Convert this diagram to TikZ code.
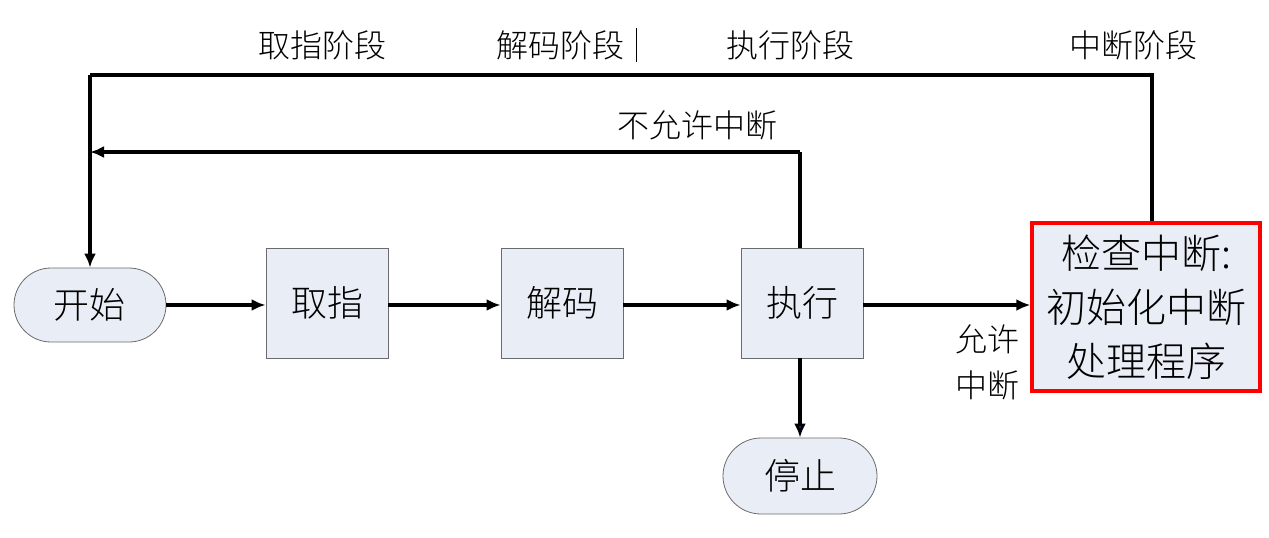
\documentclass[tikz,border=0pt]{standalone}
\usepackage{fontspec}
\setmainfont{Noto Sans CJK SC Light}
\usetikzlibrary{arrows.meta,shapes.misc}
\definecolor{fillc}{HTML}{E9EDF5}
\definecolor{bordc}{HTML}{6B6B6B}
\begin{document}
\begin{tikzpicture}[x=0.5pt,y=-0.5pt,
  box/.style={draw=bordc,fill=fillc,minimum width=61pt,minimum height=55pt,inner sep=0pt,font=\fontsize{18}{20}\selectfont},
  term/.style={draw=bordc,fill=fillc,rounded rectangle,minimum width=76pt,minimum height=37pt,inner sep=0pt,font=\fontsize{18}{20}\selectfont},
  lab/.style={font=\fontsize{16}{17}\selectfont,inner sep=0pt},
  conn/.style={line width=1.6pt,-{Latex[length=7pt,width=6pt]}},
  line/.style={line width=1.6pt}]
\useasboundingbox (0,0) rectangle (1269,537);
\node[term] (start) at (90,305) {开始};
\node[box] (fetch) at (327,303) {取指};
\node[box] (dec) at (562,303) {解码};
\node[box] (exe) at (802,303) {执行};
\node[term,minimum width=77pt,minimum height=38pt] (stop) at (800,476) {停止};
\node[draw=red,line width=1.6pt,fill=fillc,minimum width=114pt,minimum height=84pt,inner sep=0pt,align=center,font=\fontsize{20}{27}\selectfont] (intr) at (1146,307) {检查中断:\\初始化中断\\处理程序};
\coordinate (t1) at (1152,75);
\coordinate (t2) at (90,75);
\coordinate (n1) at (800,152);
\coordinate (n2) at (90,152);
\draw[line] (intr.north -| t1) -- (t1) -- (t2);
\draw[conn] (t2) -- (start.north);
\draw[line] (exe.north -| n1) -- (n1);
\draw[conn] (n1) -- (n2);
\draw[conn] (start.east) -- (start.east -| fetch.west);
\draw[conn] (fetch.east |- start.east) -- (start.east -| dec.west);
\draw[conn] (dec.east |- start.east) -- (start.east -| exe.west);
\draw[conn] (exe.east |- start.east) -- (start.east -| intr.west);
\draw[line width=1.6pt,-{Latex[length=7pt,width=6pt,fill=blue!60!gray]}] (exe.south -| stop) -- (stop.north);
\node[lab] (l1) at (322,45) {取指阶段};
\node[lab] (l2) at (560,45) {解码阶段};
\draw[line width=0.5pt] (636,28) -- (636,62);
\node[lab] (l3) at (790,45) {执行阶段};
\node[lab] (l4) at (1133,45) {中断阶段};
\node[lab] (l5) at (697,125) {不允许中断};
\node[lab,align=center,font=\fontsize{16}{23}\selectfont] (l6) at (987,362) {允许\\中断};
\end{tikzpicture}
\end{document}
